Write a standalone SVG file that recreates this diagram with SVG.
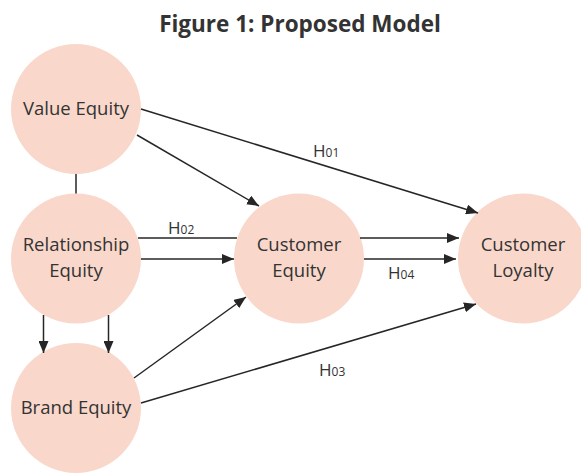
<svg xmlns="http://www.w3.org/2000/svg" width="581" height="474" viewBox="0 0 581 474">
<defs>
<marker id="ah" viewBox="0 0 12 10" refX="12" refY="5" markerWidth="12" markerHeight="10" markerUnits="userSpaceOnUse" orient="auto">
<path d="M0,0 L12,5 L0,10 Z" fill="#262626"/>
</marker>
</defs>
<style>
.n{fill:#F9D8CB;stroke:none}
.t{font-family:"Open Sans","Liberation Sans",sans-serif;font-size:18.5px;fill:#333;text-anchor:middle}
.h{font-family:"Open Sans","Liberation Sans",sans-serif;font-size:17px;fill:#333}
.s{font-size:12px}
.c line{stroke:#262626;stroke-width:1.5}
.a{marker-end:url(#ah)}
</style>
<rect width="581" height="474" fill="#fff"/>
<text x="300" y="32" font-family="Open Sans, Liberation Sans, sans-serif" font-size="22.5" font-weight="bold" fill="#333" text-anchor="middle">Figure 1: Proposed Model</text>
<g id="value-equity"><circle class="n" cx="76" cy="109" r="65"/><text class="t" x="76" y="115">Value Equity</text></g>
<g id="relationship-equity"><circle class="n" cx="76" cy="258.5" r="65"/><text class="t" x="76" y="251">Relationship</text><text class="t" x="76" y="277">Equity</text></g>
<g id="brand-equity"><circle class="n" cx="76" cy="408" r="65"/><text class="t" x="76" y="414">Brand Equity</text></g>
<g id="customer-equity"><circle class="n" cx="299" cy="258.5" r="65"/><text class="t" x="299" y="251">Customer</text><text class="t" x="299" y="277">Equity</text></g>
<g id="customer-loyalty"><circle class="n" cx="523" cy="258.5" r="65"/><text class="t" x="523" y="251">Customer</text><text class="t" x="523" y="277">Loyalty</text></g>
<g id="connectors" class="c">
<line x1="76" y1="174" x2="76" y2="193.5"/>
<line class="a" x1="141" y1="109" x2="478" y2="213"/>
<line class="a" x1="137" y1="135" x2="259" y2="206"/>
<line x1="138" y1="238" x2="237" y2="238"/>
<line class="a" x1="141" y1="259" x2="234" y2="259"/>
<line class="a" x1="360" y1="238" x2="459" y2="238"/>
<line class="a" x1="364" y1="259" x2="456" y2="259"/>
<line class="a" x1="43.5" y1="315" x2="43.5" y2="353"/>
<line class="a" x1="108.5" y1="315" x2="108.5" y2="353"/>
<line class="a" x1="134" y1="378" x2="246" y2="297"/>
<line class="a" x1="141" y1="403" x2="476" y2="304"/>
</g>
<g id="labels">
<text class="h" x="313" y="157">H<tspan class="s">01</tspan></text>
<text class="h" x="168" y="234">H<tspan class="s">02</tspan></text>
<text class="h" x="319" y="376">H<tspan class="s">03</tspan></text>
<text class="h" x="388" y="279">H<tspan class="s">04</tspan></text>
</g>
</svg>
